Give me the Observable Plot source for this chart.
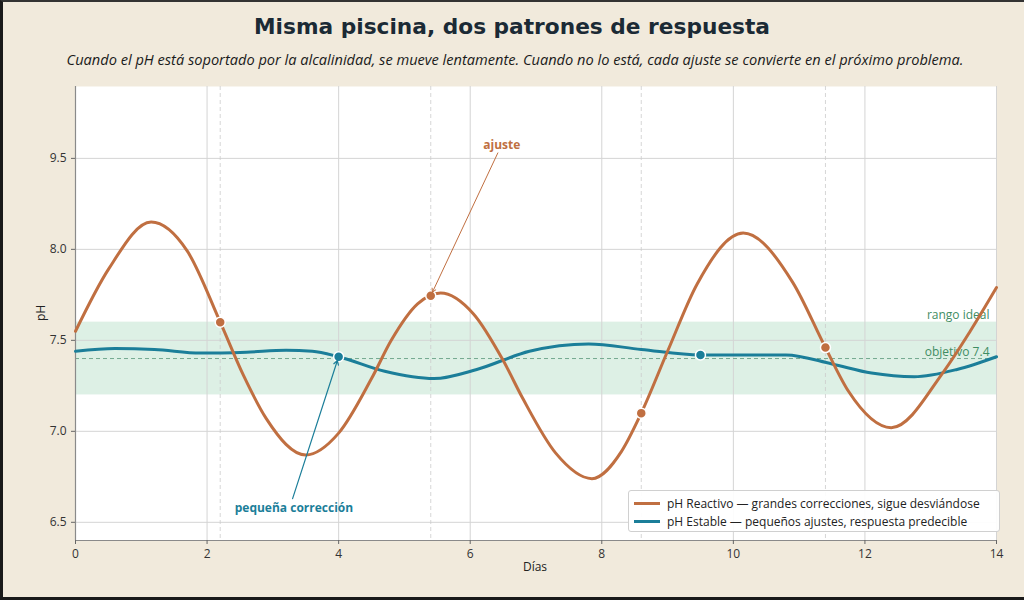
<!DOCTYPE html>
<html>
<head>
<meta charset="utf-8">
<script src="https://cdn.jsdelivr.net/npm/d3@7"></script>
<script src="https://cdn.jsdelivr.net/npm/@observablehq/plot@0.6"></script>
<style>
html, body { margin: 0; padding: 0; }
body { width: 1024px; height: 600px; background: #f1eadc; position: relative; overflow: hidden; }
#frame { position: absolute; left: 0; top: 0; width: 1024px; height: 600px; box-sizing: border-box; border-left: 3px solid #1a1a1a; border-top: 2px solid #333; border-bottom: 3px solid #1a1a1a; pointer-events: none; }
#title { position: absolute; top: 14px; left: 0; width: 1024px; text-align: center; font: bold 21.7px "DejaVu Sans", sans-serif; color: #1b2a35; }
#subtitle { position: absolute; top: 49px; left: 0; width: 1030px; text-align: center; font: italic 14.6px "Open Sans", sans-serif; color: #1a1a1a; }
#chart { position: absolute; top: 70px; left: 0; }
#ylabel { position: absolute; left: 40px; top: 313px; transform: translate(-50%, -50%) rotate(-90deg); font: 12px "Open Sans", sans-serif; color: #222; }
#xlabel { position: absolute; left: 535px; top: 558px; transform: translateX(-50%); font: 12px "Open Sans", sans-serif; color: #222; }
#legend { position: absolute; left: 628px; top: 490px; width: 372px; height: 42px; box-sizing: border-box; background: rgba(255,255,255,0.92); border: 1px solid #d0d0d0; border-radius: 3px; padding: 3px 0 0 5px; font: 12px "Open Sans", sans-serif; color: #222; }
#legend .row { display: flex; align-items: center; height: 18px; }
#legend .sw { width: 26px; height: 3px; margin-right: 7px; }
</style>
</head>
<body>
<div id="title">Misma piscina, dos patrones de respuesta</div>
<div id="subtitle">Cuando el pH está soportado por la alcalinidad, se mueve lentamente. Cuando no lo está, cada ajuste se convierte en el próximo problema.</div>
<div id="chart"></div>
<div id="ylabel">pH</div>
<div id="xlabel">Días</div>
<div id="legend"></div>
<div id="frame"></div>
<script>
// ---- data ----
const reactDays = [0, 0.5, 1.15, 1.7, 2.2, 2.55, 2.9, 3.5, 4.0, 4.5, 4.8, 5.2, 5.55, 6.05, 6.5, 6.8, 7.3, 7.85, 8.3, 8.6, 9.0, 9.45, 10.15, 10.9, 11.4, 11.75, 12.4, 13.2, 13.6, 14];
const reactPH   = [7.55, 7.89, 8.15, 7.99, 7.60, 7.31, 7.07, 6.87, 6.99, 7.29, 7.50, 7.70, 7.76, 7.645, 7.39, 7.18, 6.88, 6.74, 6.89, 7.10, 7.44, 7.81, 8.09, 7.82, 7.46, 7.22, 7.02, 7.33, 7.55, 7.79];

const stableDays = [0, 0.6, 1.2, 1.9, 2.6, 3.2, 3.6, 4.0, 4.7, 5.45, 6.1, 6.9, 7.8, 8.6, 9.5, 10.2, 10.8, 11.5, 12.1, 12.75, 13.4, 14];
const stablePH   = [7.44, 7.455, 7.45, 7.43, 7.435, 7.445, 7.44, 7.41, 7.33, 7.29, 7.34, 7.44, 7.48, 7.45, 7.42, 7.42, 7.42, 7.37, 7.32, 7.30, 7.34, 7.41];

const reactAdjDays = [2.2, 5.4, 8.6, 11.4];
const reactAdjPH   = [7.60, 7.745, 7.10, 7.46];
const stableAdjDays = [4.0, 9.5];
const stableAdjPH   = [7.41, 7.42];

const rangeLow = 7.2, rangeHigh = 7.6, targetPH = 7.4;
const xTicks = [0, 2, 4, 6, 8, 10, 12, 14];
const yTicks = [6.5, 7.0, 7.5, 8.0, 8.5];
const yTickLabels = ["6.5", "7.0", "7.5", "8.0", "9.5"];

const seriesNames = ["pH Reactivo — grandes correcciones, sigue desviándose", "pH Estable — pequeños ajustes, respuesta predecible"];
const seriesColors = ["#c06f41", "#1b7e99"];
const rangeLabel = "rango ideal";
const targetLabel = "objetivo 7.4";
const annReact = {text: "ajuste", tx: 6.48, ty: 8.57, ax1: 6.42, ay1: 8.53, ax2: 5.4, ay2: 7.745};
const annStable = {text: "pequeña corrección", tx: 3.32, ty: 6.58, ax1: 3.3, ay1: 6.63, ax2: 4.0, ay2: 7.41};

// ---- build tables ----
const reactive = reactDays.map((d, i) => ({day: d, ph: reactPH[i]}));
const stable = stableDays.map((d, i) => ({day: d, ph: stablePH[i]}));
const reactAdj = reactAdjDays.map((d, i) => ({day: d, ph: reactAdjPH[i]}));
const stableAdj = stableAdjDays.map((d, i) => ({day: d, ph: stableAdjPH[i]}));

const xDomain = [0, 14], yDomain = [6.4, 8.895];
const C = seriesColors;

const chart = Plot.plot({
  width: 1024,
  height: 515,
  marginLeft: 75,
  marginRight: 28,
  marginTop: 16,
  marginBottom: 45,
  style: {background: "transparent", fontFamily: "Open Sans, sans-serif", fontSize: "12px", color: "#333"},
  x: {domain: xDomain},
  y: {domain: yDomain},
  marks: [
    Plot.frame({fill: "white", stroke: "none"}),
    Plot.rect([{a: xDomain[0], b: xDomain[1], lo: rangeLow, hi: rangeHigh}], {x1: "a", x2: "b", y1: "lo", y2: "hi", fill: "#d5ecdf", fillOpacity: 0.8}),
    Plot.gridX(xTicks, {stroke: "#d4d4d4", strokeOpacity: 1, strokeWidth: 1}),
    Plot.gridY(yTicks, {stroke: "#d4d4d4", strokeOpacity: 1, strokeWidth: 1}),
    Plot.ruleX(reactAdjDays, {stroke: "#cccccc", strokeDasharray: "4,3", strokeWidth: 0.8}),
    Plot.ruleY([targetPH], {stroke: "#74a98f", strokeDasharray: "4,3", strokeWidth: 1}),
    Plot.ruleX([xDomain[0]], {stroke: "#8a8a8a", strokeWidth: 1.2}),
    Plot.ruleY([yDomain[0]], {stroke: "#8a8a8a", strokeWidth: 1.2}),
    Plot.text([rangeLabel], {x: xDomain[1], y: rangeHigh, text: d => d, textAnchor: "end", dx: -7, dy: -7, fill: "#3f8d63", fontSize: 12}),
    Plot.text([targetLabel], {x: xDomain[1], y: targetPH, text: d => d, textAnchor: "end", dx: -7, dy: -6, fill: "#3f8d63", fontSize: 12}),
    Plot.line(stable, {x: "day", y: "ph", stroke: C[1], strokeWidth: 3, curve: "monotone-x"}),
    Plot.line(reactive, {x: "day", y: "ph", stroke: C[0], strokeWidth: 3, curve: "monotone-x"}),
    Plot.dot(reactAdj, {x: "day", y: "ph", r: 5, fill: C[0], stroke: "white", strokeWidth: 1.5}),
    Plot.dot(stableAdj, {x: "day", y: "ph", r: 5, fill: C[1], stroke: "white", strokeWidth: 1.5}),
    Plot.arrow([annReact], {x1: "ax1", y1: "ay1", x2: "ax2", y2: "ay2", stroke: C[0], strokeWidth: 1, headLength: 6, insetEnd: 4}),
    Plot.arrow([annStable], {x1: "ax1", y1: "ay1", x2: "ax2", y2: "ay2", stroke: C[1], strokeWidth: 1.2, headLength: 6, insetEnd: 4}),
    Plot.text([annReact], {x: "tx", y: "ty", text: "text", fill: C[0], fontWeight: "bold", fontSize: 12}),
    Plot.text([annStable], {x: "tx", y: "ty", text: "text", fill: C[1], fontWeight: "bold", fontSize: 12}),
    Plot.axisX({ticks: xTicks, tickFormat: d => String(d), label: null, tickSize: 4, stroke: "#666", fill: "#333", fontSize: 12}),
    Plot.axisY({ticks: yTicks, tickFormat: d => yTickLabels[yTicks.indexOf(d)], label: null, tickSize: 4, stroke: "#666", fill: "#333", fontSize: 12})
  ]
});
document.getElementById("chart").appendChild(chart);

// legend
const lg = document.getElementById("legend");
seriesNames.forEach((n, i) => {
  const row = document.createElement("div");
  row.className = "row";
  const sw = document.createElement("span");
  sw.className = "sw";
  sw.style.background = C[i];
  const t = document.createElement("span");
  t.textContent = n;
  row.appendChild(sw); row.appendChild(t);
  lg.appendChild(row);
});
</script>
</body>
</html>
